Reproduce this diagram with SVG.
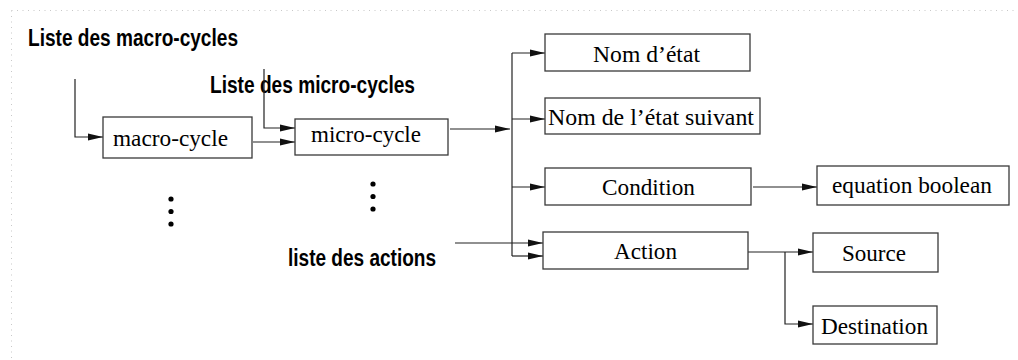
<svg xmlns="http://www.w3.org/2000/svg" width="1018" height="360" viewBox="0 0 1018 360">
  <style>
    .box { fill: #fff; stroke: #3a3a3a; stroke-width: 1.3; }
    .lbl { font-family: "Liberation Serif", "Times New Roman", serif; font-size: 23px; fill: #000; }
    .head { font-family: "Liberation Sans", Arial, sans-serif; font-weight: bold; font-size: 23px; fill: #000; }
    .wire { fill: none; stroke: #222; stroke-width: 1.2; }
    .frame { stroke: #c8c8c8; stroke-width: 1; stroke-dasharray: 1 4.5; fill: none; }
  </style>
  <defs>
    <marker id="arrow" markerUnits="userSpaceOnUse" markerWidth="15" markerHeight="8" refX="15" refY="4" orient="auto">
      <path d="M0,0.6 L15,4 L0,7.4 z" fill="#111"/>
    </marker>
  </defs>

  <rect width="1018" height="360" fill="#fff"/>

  <!-- dotted page frame -->
  <line class="frame" x1="11.5" y1="10.5" x2="1018" y2="10.5"/>
  <line class="frame" x1="11.5" y1="10.5" x2="11.5" y2="360"/>

  <!-- list headings -->
  <text class="head" x="28" y="46" textLength="210" lengthAdjust="spacingAndGlyphs">Liste des macro-cycles</text>
  <text class="head" x="210" y="93" textLength="205" lengthAdjust="spacingAndGlyphs">Liste des micro-cycles</text>
  <text class="head" x="288" y="266" textLength="148" lengthAdjust="spacingAndGlyphs">liste des actions</text>

  <!-- continuation dots -->
  <g id="dots" fill="#000">
    <circle cx="171" cy="199" r="2.6"/>
    <circle cx="171" cy="211.5" r="2.6"/>
    <circle cx="171" cy="224" r="2.6"/>
    <circle cx="373" cy="184" r="2.6"/>
    <circle cx="373" cy="196.5" r="2.6"/>
    <circle cx="373" cy="209" r="2.6"/>
  </g>

  <g id="connectors" class="wire">
    <polyline points="75,79 75,137 103,137" marker-end="url(#arrow)"/>
    <line x1="253" y1="142" x2="295" y2="142" marker-end="url(#arrow)"/>
    <polyline points="264,69 264,128 295,128" marker-end="url(#arrow)"/>
    <line x1="450" y1="129" x2="510" y2="129" marker-end="url(#arrow)"/>
    <line x1="512" y1="53" x2="512" y2="256"/>
    <line x1="512" y1="53" x2="545" y2="53" marker-end="url(#arrow)"/>
    <line x1="512" y1="119" x2="545" y2="119" marker-end="url(#arrow)"/>
    <line x1="512" y1="187" x2="545" y2="187" marker-end="url(#arrow)"/>
    <line x1="512" y1="256" x2="543" y2="256" marker-end="url(#arrow)"/>
    <line x1="455" y1="243" x2="543" y2="243" marker-end="url(#arrow)"/>
    <line x1="753" y1="187" x2="817" y2="187" marker-end="url(#arrow)"/>
    <line x1="748" y1="252" x2="813" y2="252" marker-end="url(#arrow)"/>
    <polyline points="785,252 785,324 813,324" marker-end="url(#arrow)"/>
  </g>

  <g id="macro-cycle">
    <rect class="box" x="103" y="117" width="149" height="41"/>
    <text class="lbl" x="113" y="146" textLength="115" lengthAdjust="spacingAndGlyphs">macro-cycle</text>
  </g>
  <g id="micro-cycle">
    <rect class="box" x="295" y="119" width="153" height="36"/>
    <text class="lbl" x="311" y="142" textLength="110" lengthAdjust="spacingAndGlyphs">micro-cycle</text>
  </g>
  <g id="nom-etat">
    <rect class="box" x="545" y="34" width="205" height="37"/>
    <text class="lbl" x="593" y="62" textLength="107" lengthAdjust="spacingAndGlyphs">Nom d’état</text>
  </g>
  <g id="nom-etat-suivant">
    <rect class="box" x="545" y="98" width="215" height="36"/>
    <text class="lbl" x="548" y="125" textLength="206" lengthAdjust="spacingAndGlyphs">Nom de l’état suivant</text>
  </g>
  <g id="condition">
    <rect class="box" x="545" y="168" width="206" height="37"/>
    <text class="lbl" x="602" y="195" textLength="93" lengthAdjust="spacingAndGlyphs">Condition</text>
  </g>
  <g id="equation-boolean">
    <rect class="box" x="817" y="166" width="192" height="39"/>
    <text class="lbl" x="832" y="193" textLength="160" lengthAdjust="spacingAndGlyphs">equation boolean</text>
  </g>
  <g id="action">
    <rect class="box" x="543" y="232" width="205" height="37"/>
    <text class="lbl" x="614" y="259" textLength="63" lengthAdjust="spacingAndGlyphs">Action</text>
  </g>
  <g id="source">
    <rect class="box" x="813" y="233" width="125" height="39"/>
    <text class="lbl" x="842" y="261" textLength="64" lengthAdjust="spacingAndGlyphs">Source</text>
  </g>
  <g id="destination">
    <rect class="box" x="813" y="306" width="124" height="38"/>
    <text class="lbl" x="821" y="334" textLength="107" lengthAdjust="spacingAndGlyphs">Destination</text>
  </g>
</svg>
